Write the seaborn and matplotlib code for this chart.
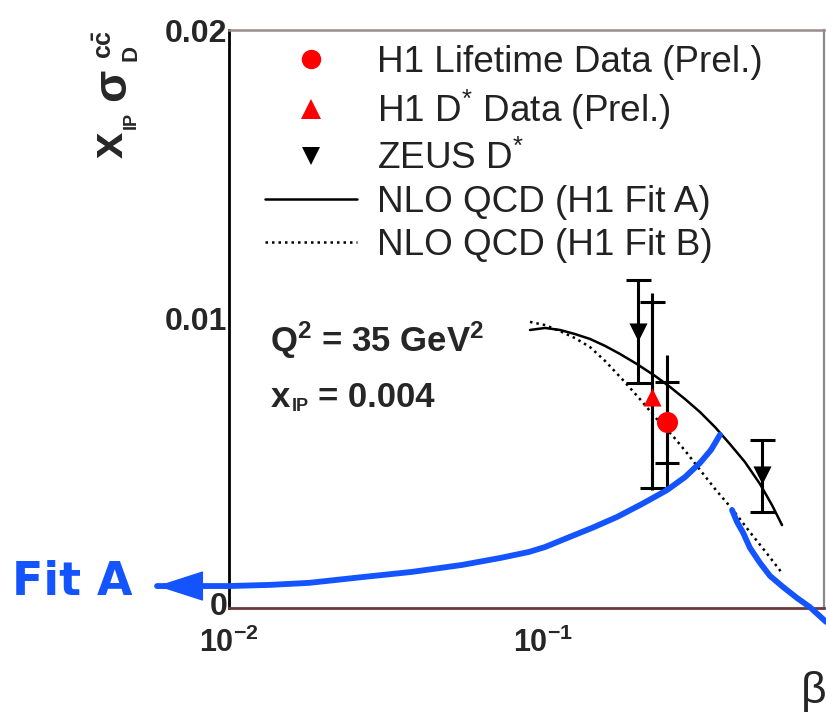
import numpy as np
import pandas as pd
import matplotlib
matplotlib.use("Agg")
import matplotlib.pyplot as plt
import seaborn as sns
from matplotlib.ticker import FixedLocator, FixedFormatter, NullFormatter
from matplotlib.lines import Line2D
from matplotlib.patches import ArrowStyle
from matplotlib.transforms import ScaledTranslation

# ---------------- data ----------------
fitA_beta = [0.0909, 0.1015, 0.1133, 0.1264, 0.1411, 0.1576, 0.1759, 0.1992, 0.2274, 0.2538,
             0.2833, 0.3162, 0.3530, 0.3940, 0.4397, 0.4910, 0.5362, 0.5770]
fitA_y = [0.00962, 0.00969, 0.00962, 0.00948, 0.00931, 0.00907, 0.00879, 0.00844, 0.00803, 0.00765,
          0.00723, 0.00678, 0.00626, 0.00567, 0.00505, 0.00429, 0.00356, 0.00287]

fitB_beta = [0.0909, 0.1015, 0.1133, 0.1264, 0.1411, 0.1576, 0.1797, 0.2035, 0.2290, 0.2593,
             0.2875, 0.3162, 0.3555, 0.4028, 0.4557, 0.5120, 0.5770]
fitB_y = [0.00990, 0.00979, 0.00958, 0.00934, 0.00903, 0.00855, 0.00789, 0.00723, 0.00657, 0.00595,
          0.00536, 0.00478, 0.00408, 0.00339, 0.00263, 0.00194, 0.00121]

h1lt_beta = [0.248]
h1lt_y = [0.00644]
h1lt_tot_up = [0.00231]
h1lt_tot_dn = [0.00236]
h1lt_stat_up = [0.00138]
h1lt_stat_dn = [0.00142]

h1ds_beta = [0.222]
h1ds_y = [0.00730]
h1ds_tot_up = [0.00360]
h1ds_tot_dn = [0.00322]
h1ds_stat_up = [0.00329]
h1ds_stat_dn = [0.00315]

zeus_beta = [0.200, 0.498]
zeus_y = [0.00955, 0.00460]
zeus_err_up = [0.00180, 0.00120]
zeus_err_dn = [0.00176, 0.00128]

# hand-drawn blue annotation strokes
blue1_beta = [0.0059, 0.0100, 0.01351, 0.0180, 0.0266, 0.0383, 0.0552, 0.0730, 0.0902, 0.1015,
              0.1192, 0.1432, 0.1721, 0.2067, 0.2483, 0.2833, 0.3162, 0.3428, 0.3660]
blue1_y = [0.00076, 0.00076, 0.00080, 0.00087, 0.00107, 0.00125, 0.00149, 0.00173, 0.00194, 0.00211,
           0.00242, 0.00277, 0.00315, 0.00360, 0.00408, 0.00453, 0.00502, 0.00547, 0.00599]
blue2_beta = [0.400, 0.4147, 0.434, 0.4561, 0.491, 0.5284, 0.581, 0.6435, 0.708, 0.797]
blue2_y = [0.00339, 0.00298, 0.00260, 0.00208, 0.00156, 0.00111, 0.00073, 0.00035, 0.00003, -0.00048]

legend_labels = ["H1 Lifetime Data (Prel.)", "H1 D$^{*}$ Data (Prel.)", "ZEUS D$^{*}$",
                 "NLO QCD (H1 Fit A)", "NLO QCD (H1 Fit B)"]
xtick_vals = [0.01, 0.1]
xtick_labels = ["10$^{-2}$", "10$^{-1}$"]
ytick_vals = [0.0, 0.01, 0.02]
ytick_labels = ["0", "0.01", "0.02"]

# ---------------- style ----------------
sns.set_theme(style="white")
plt.rcParams["font.family"] = ["Liberation Sans", "DejaVu Sans"]
plt.rcParams["mathtext.default"] = "regular"

BLUE = "#1454ff"
RED = "#ff0000"

W, H = 826, 715
fig = plt.figure(figsize=(W / 100, H / 100), dpi=100)


def fx(px):
    return px / W


def fy(py):
    return 1 - py / H


ax = fig.add_axes([fx(229), fy(608), fx(824) - fx(229), fy(30) - fy(608)])
ax.set_xscale("log")
ax.set_xlim(0.01, 0.785)
ax.set_ylim(0, 0.02)

# spines
for s, c, lw in [("left", "black", 2.0), ("bottom", "#6b3a3a", 2.0), ("top", "#9a8c8c", 1.8), ("right", "#8a8a8a", 1.6)]:
    ax.spines[s].set_visible(True)
    ax.spines[s].set_color(c)
    ax.spines[s].set_linewidth(lw)

# ticks
ax.xaxis.set_major_locator(FixedLocator(xtick_vals))
ax.xaxis.set_major_formatter(FixedFormatter(xtick_labels))
ax.xaxis.set_minor_locator(FixedLocator([k * 0.01 for k in range(2, 10)] + [k * 0.1 for k in range(2, 8)]))
ax.xaxis.set_minor_formatter(NullFormatter())
ax.yaxis.set_major_locator(FixedLocator(ytick_vals))
ax.yaxis.set_major_formatter(FixedFormatter(ytick_labels))
ax.yaxis.set_minor_locator(FixedLocator([0.002, 0.004, 0.006, 0.008, 0.012, 0.014, 0.016, 0.018]))
ax.tick_params(axis="both", which="both", direction="in", top=False, right=False, color="black", width=1.4)
ax.tick_params(axis="x", which="major", length=12, pad=14, labelsize=22)
ax.tick_params(axis="x", which="minor", length=6)
ax.tick_params(axis="y", which="major", length=14, pad=1, labelsize=23)
ax.tick_params(axis="y", which="minor", length=6)
for lab in ax.get_xticklabels() + ax.get_yticklabels():
    lab.set_fontweight("bold")
# lift the "0" label slightly, as in the reference
zero_lab = ax.yaxis.get_major_ticks()[0].label1
zero_lab.set_transform(zero_lab.get_transform() + ScaledTranslation(0, 3 / 72, fig.dpi_scale_trans))

# theory curves
sns.lineplot(x=fitA_beta, y=fitA_y, ax=ax, color="black", lw=1.8, sort=False, estimator=None, zorder=3)
sns.lineplot(x=fitB_beta, y=fitB_y, ax=ax, color="black", lw=1.8, sort=False, estimator=None,
             linestyle=(0, (1, 1.6)), zorder=3)

# error bars
ax.errorbar(zeus_beta, zeus_y, yerr=[zeus_err_dn, zeus_err_up], fmt="none", ecolor="black",
            elinewidth=2.2, capsize=9, capthick=2.2, zorder=4)
ax.errorbar(h1ds_beta, h1ds_y, yerr=[h1ds_tot_dn, h1ds_tot_up], fmt="none", ecolor="black",
            elinewidth=2.2, capsize=0, zorder=4)
ax.errorbar(h1ds_beta, h1ds_y, yerr=[h1ds_stat_dn, h1ds_stat_up], fmt="none", ecolor="black",
            elinewidth=2.2, capsize=9, capthick=2.2, zorder=4)
ax.errorbar(h1lt_beta, h1lt_y, yerr=[h1lt_tot_dn, h1lt_tot_up], fmt="none", ecolor="black",
            elinewidth=2.2, capsize=0, zorder=4)
ax.errorbar(h1lt_beta, h1lt_y, yerr=[h1lt_stat_dn, h1lt_stat_up], fmt="none", ecolor="black",
            elinewidth=2.2, capsize=8.5, capthick=2.2, zorder=4)

# blue annotation strokes
sns.lineplot(x=blue1_beta, y=blue1_y, ax=ax, color=BLUE, lw=4.2, sort=False, estimator=None,
             clip_on=False, zorder=6)
sns.lineplot(x=blue2_beta, y=blue2_y, ax=ax, color=BLUE, lw=4.2, sort=False, estimator=None,
             clip_on=False, zorder=6)
ax.annotate("", xy=(blue1_beta[0], blue1_y[0]), xytext=(blue1_beta[1], blue1_y[1]),
            arrowprops=dict(arrowstyle=ArrowStyle("-|>", head_length=3.1, head_width=1.0),
                            mutation_scale=10, color=BLUE, lw=1, shrinkA=0, shrinkB=0),
            annotation_clip=False, zorder=7)

# markers
sns.scatterplot(x=zeus_beta, y=zeus_y, ax=ax, marker="v", s=170, color="black", linewidth=0, zorder=8)
sns.scatterplot(x=h1ds_beta, y=h1ds_y, ax=ax, marker="^", s=170, color=RED, linewidth=0, zorder=8)
sns.scatterplot(x=h1lt_beta, y=h1lt_y, ax=ax, marker="o", s=230, color=RED, linewidth=0, zorder=8)

# legend
handles = [
    Line2D([], [], marker="o", color=RED, ls="none", ms=14, mew=0),
    Line2D([], [], marker="^", color=RED, ls="none", ms=14, mew=0),
    Line2D([], [], marker="v", color="black", ls="none", ms=13, mew=0),
    Line2D([], [], color="black", lw=1.8),
    Line2D([], [], color="black", lw=1.8, ls=(0, (1, 1.6))),
]
leg = ax.legend(handles, legend_labels, loc="upper left", bbox_to_anchor=(0.0605, 0.974),
                frameon=False, fontsize=26.6, handlelength=2.5, handletextpad=0.53,
                labelspacing=0.22, borderpad=0, borderaxespad=0)
for t in leg.get_texts():
    t.set_color("#222222")

# kinematic labels
fig.text(fx(270), fy(352), "Q$^{2}$ = 35 GeV$^{2}$", fontsize=25, fontweight="bold", ha="left", va="baseline")
fig.text(fx(271), fy(407), "x", fontsize=25, fontweight="bold", ha="left", va="baseline")
fig.text(fx(292), fy(411), "IP", fontsize=13, fontweight="bold", ha="left", va="baseline")
fig.text(fx(318), fy(407), "= 0.004", fontsize=25, fontweight="bold", ha="left", va="baseline")

# y-axis label (rotated pieces)
rk = dict(rotation=90, rotation_mode="anchor", ha="left", va="baseline", fontweight="bold")
fig.text(fx(123), fy(158), "x", fontsize=34, **rk)
fig.text(fx(136), fy(129), "IP", fontsize=13, **rk)
fig.text(fx(125), fy(101), "σ", fontsize=34, **rk)
fig.text(fx(137), fy(61), "D", fontsize=16, **rk)
fig.text(fx(112), fy(59), r"c$\bar{c}$", fontsize=18, **rk)

# x-axis label
fig.text(fx(801), fy(703), "β", fontsize=32, ha="left", va="baseline")

# Fit A annotation text
fig.text(fx(12), fy(595), "Fit A", fontsize=33, fontweight="bold", color=BLUE,
         family="DejaVu Sans", ha="left", va="baseline")

fig.savefig("out.png", dpi=100)
